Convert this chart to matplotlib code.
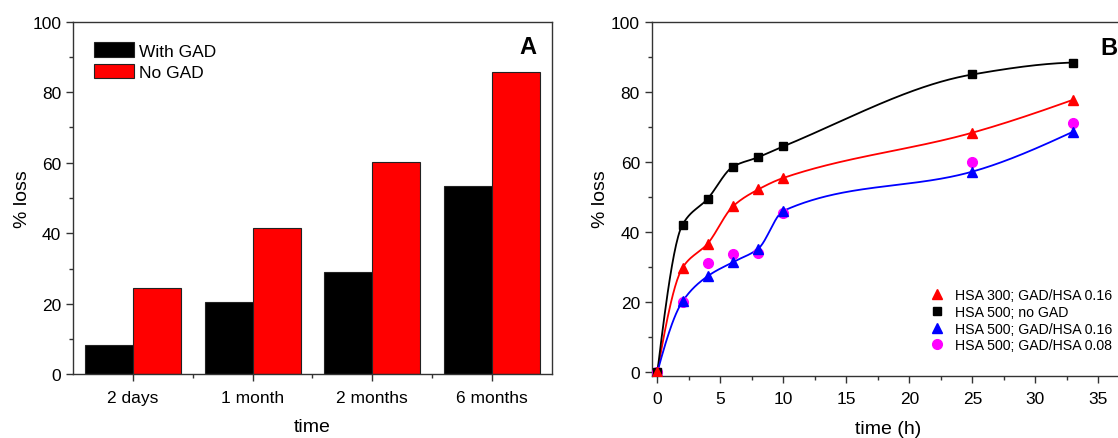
import matplotlib.pyplot as plt
import numpy as np
from matplotlib.lines import Line2D
from matplotlib.ticker import MultipleLocator, FixedLocator

plt.rcParams['font.family'] = ['Liberation Sans', 'DejaVu Sans']

# panel A: loss over storage time
periods = ['2 days', '1 month', '2 months', '6 months']
with_gad = [8.2, 20.4, 28.9, 53.3]
no_gad = [24.6, 41.4, 60.2, 85.6]

# panel B: loss vs time (h)
hours = [0, 2, 4, 6, 8, 10, 25, 33]
hsa300_016 = [0, 29.8, 36.7, 47.3, 52.1, 55.4, 68.3, 77.7]
hsa500_nogad = [0, 42.1, 49.5, 58.6, 61.3, 64.4, 84.9, 88.3]
hsa500_016 = [0, 20.2, 27.4, 31.4, 35.2, 46.0, 57.2, 68.6]
hsa500_008 = [0, 19.9, 31.0, 33.6, 34.1, 45.3, 59.8, 71.1]


def pchip_curve(x, y, num=400):
    # monotone cubic (Fritsch-Carlson) for the smooth guide lines
    x = np.asarray(x, float)
    y = np.asarray(y, float)
    h = np.diff(x)
    d = np.diff(y) / h
    n = len(x)
    m = np.zeros(n)
    for k in range(1, n - 1):
        if d[k - 1] * d[k] > 0:
            w1 = 2 * h[k] + h[k - 1]
            w2 = h[k] + 2 * h[k - 1]
            m[k] = (w1 + w2) / (w1 / d[k - 1] + w2 / d[k])
    m[0] = ((2 * h[0] + h[1]) * d[0] - h[0] * d[1]) / (h[0] + h[1])
    if np.sign(m[0]) != np.sign(d[0]):
        m[0] = 0
    elif abs(m[0]) > 3 * abs(d[0]):
        m[0] = 3 * d[0]
    m[-1] = ((2 * h[-1] + h[-2]) * d[-1] - h[-1] * d[-2]) / (h[-1] + h[-2])
    if np.sign(m[-1]) != np.sign(d[-1]):
        m[-1] = 0
    elif abs(m[-1]) > 3 * abs(d[-1]):
        m[-1] = 3 * d[-1]
    xs = np.linspace(x[0], x[-1], num)
    idx = np.clip(np.searchsorted(x, xs) - 1, 0, n - 2)
    t = (xs - x[idx]) / h[idx]
    h00 = 2 * t**3 - 3 * t**2 + 1
    h10 = t**3 - 2 * t**2 + t
    h01 = -2 * t**3 + 3 * t**2
    h11 = t**3 - t**2
    ys = h00 * y[idx] + h10 * h[idx] * m[idx] + h01 * y[idx + 1] + h11 * h[idx] * m[idx + 1]
    return xs, ys


def style_axes(ax):
    for s in ax.spines.values():
        s.set_linewidth(1.0)
        s.set_color('#333333')
    ax.tick_params(which='both', direction='out', width=1.0, colors='#333333',
                   labelcolor='black', labelsize=12.5)
    ax.tick_params(which='major', length=5)
    ax.tick_params(which='minor', length=3)


fig = plt.figure(figsize=(11.18, 4.39), dpi=100)

# ---- A ----
axA = fig.add_axes([0.0653, 0.1451, 0.4284, 0.8032])
x = np.arange(len(periods))
width = 0.4
axA.bar(x - width / 2, with_gad, width, color='black', edgecolor='#222222',
        linewidth=0.8, label='With GAD')
axA.bar(x + width / 2, no_gad, width, color='#ff0000', edgecolor='#222222',
        linewidth=0.8, label='No GAD')
axA.set_xlim(-0.5, 3.5)
axA.set_ylim(0, 100)
axA.set_xticks(x, periods)
axA.xaxis.set_minor_locator(FixedLocator([0.5, 1.5, 2.5]))
axA.yaxis.set_major_locator(MultipleLocator(20))
axA.yaxis.set_minor_locator(MultipleLocator(10))
style_axes(axA)
axA.tick_params(axis='x', pad=6)
axA.set_xlabel('time', fontsize=14, labelpad=10)
axA.set_ylabel('% loss', fontsize=14, labelpad=1)
axA.text(0.967, 0.962, 'A', transform=axA.transAxes, ha='right', va='top',
         fontsize=17, fontweight='bold')
axA.legend(loc='upper left', bbox_to_anchor=(0.03, 0.961), frameon=False,
           fontsize=12.5, handlelength=2.3, handleheight=0.9, handletextpad=0.3,
           labelspacing=0.3, borderaxespad=0)

# ---- B ----
axB = fig.add_axes([0.5829, 0.1419, 0.4221, 0.8068])
series = [
    (hsa300_016, '#ff0000', '^', 7, 'HSA 300; GAD/HSA 0.16', True),
    (hsa500_nogad, 'black', 's', 6, 'HSA 500; no GAD', True),
    (hsa500_016, '#0000ff', '^', 7, 'HSA 500; GAD/HSA 0.16', True),
    (hsa500_008, '#ff00ff', 'o', 7, 'HSA 500; GAD/HSA 0.08', False),
]
handles = []
for vals, col, mk, ms, lab, curve in series:
    if curve:
        xs, ys = pchip_curve(hours, vals)
        axB.plot(xs, ys, color=col, linewidth=1.3, zorder=2)
for vals, col, mk, ms, lab, curve in series[::-1]:
    axB.plot(hours, vals, linestyle='none', marker=mk, markersize=ms,
             color=col, zorder=3)
for vals, col, mk, ms, lab, curve in series:
    handles.append(Line2D([], [], linestyle='none', marker=mk, markersize=ms,
                          color=col, label=lab))
axB.set_xlim(-0.45, 37)
axB.set_ylim(-1, 100)
axB.xaxis.set_major_locator(MultipleLocator(5))
axB.xaxis.set_minor_locator(MultipleLocator(2.5))
axB.yaxis.set_major_locator(MultipleLocator(20))
axB.yaxis.set_minor_locator(MultipleLocator(10))
style_axes(axB)
axB.tick_params(axis='x', pad=6)
axB.set_xlabel('time (h)', fontsize=14, labelpad=10)
axB.set_ylabel('% loss', fontsize=14, labelpad=1)
axB.text(0.950, 0.959, 'B', transform=axB.transAxes, ha='left', va='top',
         fontsize=17, fontweight='bold')
axB.legend(handles=handles, loc='upper left', bbox_to_anchor=(0.59, 0.248),
           frameon=False, fontsize=10.2, handlelength=1.0, handletextpad=0.75,
           labelspacing=0.2, borderaxespad=0, borderpad=0)

fig.savefig('out.png', dpi=100)
